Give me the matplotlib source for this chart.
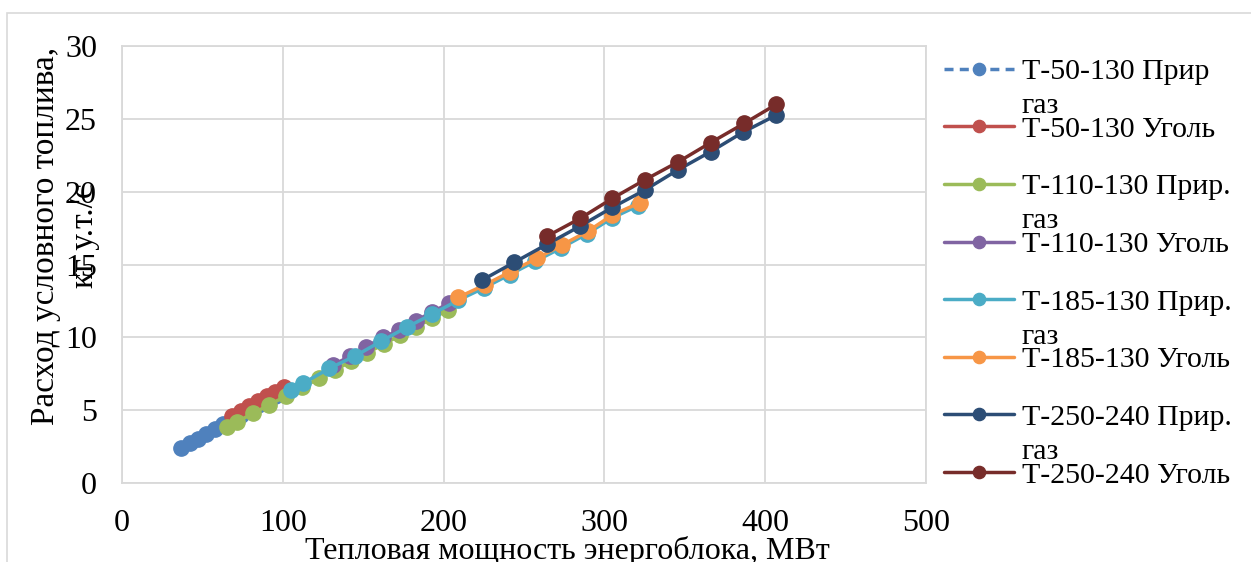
import matplotlib
matplotlib.use("Agg")
import matplotlib.pyplot as plt
from matplotlib.patches import Rectangle

plt.rcParams['font.family'] = ['Liberation Serif', 'DejaVu Serif']

# Heat output, MW, and conventional fuel consumption, kg c.e./s
t50_gas_p = [36.5, 42, 47, 52.5, 58, 63, 68.5, 74, 79, 84.5, 90, 95, 100.5]
t50_gas_b = [2.38, 2.72, 3.04, 3.38, 3.74, 4.05, 4.38, 4.70, 5.01, 5.33, 5.65, 5.94, 6.25]

t50_coal_p = [68.5, 74, 79, 84.5, 90, 95, 100.5]
t50_coal_b = [4.62, 4.96, 5.27, 5.61, 5.95, 6.25, 6.58]

t110_gas_p = [65.5, 71.5, 81.5, 91.5, 102, 112, 122.5, 132.5, 142.5, 152.5, 163, 173, 183, 193, 203]
t110_gas_b = [3.87, 4.20, 4.78, 5.36, 5.97, 6.56, 7.18, 7.76, 8.35, 8.93, 9.55, 10.13, 10.72, 11.30, 11.90]

t110_coal_p = [131, 142, 152, 162.5, 172.5, 183, 193, 203.5]
t110_coal_b = [8.10, 8.70, 9.36, 10.00, 10.50, 11.14, 11.76, 12.33]

t185_gas_p = [105, 112.5, 129, 145, 161, 177, 193, 209, 225, 241, 257, 273, 289, 305, 321]
t185_gas_b = [6.38, 6.84, 7.87, 8.72, 9.72, 10.69, 11.60, 12.54, 13.39, 14.30, 15.22, 16.13, 17.10, 18.20, 19.04]

t185_coal_p = [209, 225.5, 241.5, 258, 273.5, 290, 305, 322]
t185_coal_b = [12.74, 13.59, 14.50, 15.42, 16.33, 17.30, 18.40, 19.24]

t250_gas_p = [224, 244, 264.5, 285, 305, 325, 345.5, 366, 386.5, 407]
t250_gas_b = [13.93, 15.15, 16.40, 17.64, 18.92, 20.10, 21.48, 22.74, 24.10, 25.26]

t250_coal_p = [264.5, 285, 305, 325, 346, 366, 387, 407]
t250_coal_b = [16.95, 18.17, 19.54, 20.80, 22.05, 23.36, 24.69, 26.00]

series = [
    ("Т-50-130 Прир", "газ", t50_gas_p, t50_gas_b, "#4F81BD", (0, (2.6, 1.8))),
    ("Т-50-130 Уголь", None, t50_coal_p, t50_coal_b, "#C0504D", "-"),
    ("Т-110-130 Прир.", "газ", t110_gas_p, t110_gas_b, "#9BBB59", "-"),
    ("Т-110-130 Уголь", None, t110_coal_p, t110_coal_b, "#8064A2", "-"),
    ("Т-185-130 Прир.", "газ", t185_gas_p, t185_gas_b, "#4BACC6", "-"),
    ("Т-185-130 Уголь", None, t185_coal_p, t185_coal_b, "#F79646", "-"),
    ("Т-250-240 Прир.", "газ", t250_gas_p, t250_gas_b, "#2C4D75", "-"),
    ("Т-250-240 Уголь", None, t250_coal_p, t250_coal_b, "#772C2A", "-"),
]

x_ticks = [0, 100, 200, 300, 400, 500]
y_ticks = [0, 5, 10, 15, 20, 25, 30]

W, H = 1251, 562
fig = plt.figure(figsize=(W / 100, H / 100), dpi=100)
fig.patch.set_facecolor("white")

# chart area frame
fig.patches.append(Rectangle((7 / W, -0.05), 1.2, 1 - 13 / H + 0.05,
                             transform=fig.transFigure, fill=False,
                             edgecolor="#D9D9D9", linewidth=1.2, zorder=0))

ax = fig.add_axes([122 / W, (H - 483) / H, 804 / W, 437 / H])

for label, _, p, b, color, ls in series:
    ax.plot(p, b, color=color, linestyle=ls, linewidth=2.5,
            marker="o", markersize=11, label=label,
            solid_capstyle="round", dash_capstyle="butt")

ax.set_xlim(0, 500)
ax.set_ylim(0, 30)
ax.set_xticks(x_ticks)
ax.set_yticks(y_ticks)
ax.grid(True, color="#D9D9D9", linewidth=1.3)
ax.set_axisbelow(True)
for s in ax.spines.values():
    s.set_color("#D9D9D9")
    s.set_linewidth(1.3)
ax.tick_params(length=0, labelsize=23, colors="black")
ax.tick_params(axis="y", pad=18)
ax.tick_params(axis="x", pad=19)

ax.set_xlabel("Тепловая мощность энергоблока, МВт", fontsize=23)
ax.xaxis.set_label_coords((567 - 122) / 804, (483 - 536) / 437)
ax.set_ylabel("Расход условного топлива,\nкг у.т./с", fontsize=24,
              linespacing=1.35)
ax.yaxis.set_label_coords((100 - 122) / 804, 0.565)

leg = ax.legend(loc="upper left", bbox_to_anchor=(1.0 - 6 / 804, 1.027),
                frameon=False, fontsize=21.5, handlelength=2.35,
                handletextpad=0.25, labelspacing=1.03, markerscale=0.8,
                borderaxespad=0.4)

# continuation lines of the long legend labels, placed under their entries
fig.canvas.draw()
inv = fig.transFigure.inverted()
for txt, (_, cont, *_rest) in zip(leg.get_texts(), series):
    if cont:
        bb = txt.get_window_extent()
        x0, y0 = inv.transform((bb.x0, bb.y0 - 28))
        fig.text(x0, y0, cont, fontsize=21.5, ha="left", va="baseline")

fig.savefig("out.png", dpi=100, facecolor="white")
